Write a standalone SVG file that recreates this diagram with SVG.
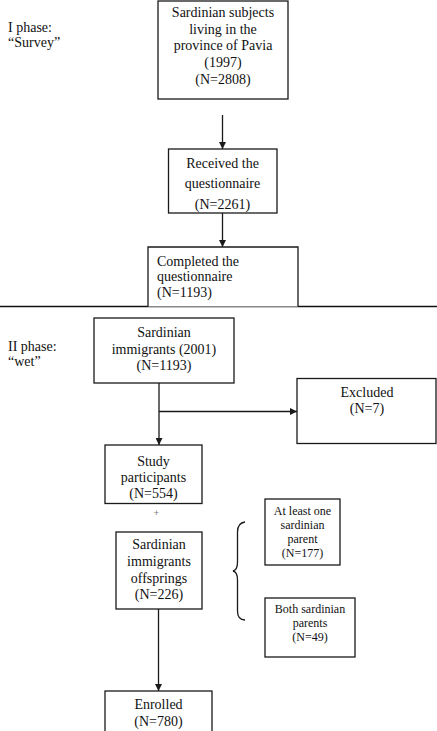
<svg xmlns="http://www.w3.org/2000/svg" width="437" height="731" viewBox="0 0 437 731">
<defs>
<style>
.box{fill:#fff;stroke:#1a1a1a;stroke-width:1.3}
.t{font-family:"Liberation Serif","Times New Roman",serif;font-size:14px;fill:#111;text-anchor:middle}
.s{font-family:"Liberation Serif","Times New Roman",serif;font-size:12px;fill:#111;text-anchor:middle}
.l{font-family:"Liberation Serif","Times New Roman",serif;font-size:14px;fill:#111}
.c{fill:none;stroke:#1a1a1a;stroke-width:1.3}
</style>
<marker id="ah" viewBox="0 0 10 10" refX="10" refY="5" markerWidth="7" markerHeight="7" markerUnits="userSpaceOnUse" orient="auto">
<path d="M0,0 L10,5 L0,10 z" fill="#1a1a1a"/>
</marker>
</defs>
<rect width="437" height="731" fill="#fff"/>
<g id="phase1-label">
<text class="l" x="8" y="32">I phase:</text>
<text class="l" x="8" y="47">“Survey”</text>
</g>
<g id="phase2-label">
<text class="l" x="8" y="351">II phase:</text>
<text class="l" x="8" y="366">“wet”</text>
</g>
<line id="divider" x1="0" y1="306.5" x2="437" y2="306.5" stroke="#111" stroke-width="1.5"/>
<g id="connectors">
<line class="c" x1="222.5" y1="115" x2="222.5" y2="149" marker-end="url(#ah)"/>
<line class="c" x1="222.5" y1="213" x2="222.5" y2="247" marker-end="url(#ah)"/>
<line class="c" x1="159" y1="383" x2="159" y2="445" marker-end="url(#ah)"/>
<line class="c" x1="159" y1="411.5" x2="297" y2="411.5" marker-end="url(#ah)"/>
<line class="c" x1="158.5" y1="609" x2="158.5" y2="691" marker-end="url(#ah)"/>
</g>
<g id="n1">
<rect class="box" x="158" y="1" width="130" height="98"/>
<text class="t" x="223" y="17">Sardinian subjects</text>
<text class="t" x="223" y="33.5">living in the</text>
<text class="t" x="223" y="50">province of Pavia</text>
<text class="t" x="223" y="67">(1997)</text>
<text class="t" x="223" y="84">(N=2808)</text>
</g>
<g id="n2">
<rect class="box" x="168.5" y="149" width="108.5" height="64"/>
<text class="t" x="222.5" y="167.5">Received the</text>
<text class="t" x="222.5" y="188">questionnaire</text>
<text class="t" x="222.5" y="208.5">(N=2261)</text>
</g>
<g id="n3">
<path class="box" d="M148,306.5 V247 H298 V306.5"/>
<text class="l" x="157" y="265.5">Completed the</text>
<text class="l" x="157" y="281">questionnaire</text>
<text class="l" x="157" y="297">(N=1193)</text>
</g>
<g id="n4">
<rect class="box" x="94" y="318" width="140" height="65"/>
<text class="t" x="164" y="337">Sardinian</text>
<text class="t" x="164" y="353.5">immigrants (2001)</text>
<text class="t" x="164" y="370">(N=1193)</text>
</g>
<g id="n5">
<rect class="box" x="297" y="378.5" width="139" height="65"/>
<text class="t" x="367" y="397">Excluded</text>
<text class="t" x="367" y="413">(N=7)</text>
</g>
<g id="n6">
<rect class="box" x="105" y="445" width="97" height="58.5"/>
<text class="t" x="153.5" y="465.5">Study</text>
<text class="t" x="153.5" y="482">participants</text>
<text class="t" x="153.5" y="498">(N=554)</text>
</g>
<text id="plus" x="156.5" y="515.5" font-family="Liberation Sans, Arial, sans-serif" font-size="9" fill="#777" text-anchor="middle">+</text>
<g id="n7">
<rect class="box" x="116" y="532" width="86" height="77"/>
<text class="t" x="159" y="549">Sardinian</text>
<text class="t" x="159" y="566">immigrants</text>
<text class="t" x="159" y="582.5">offsprings</text>
<text class="t" x="159" y="599">(N=226)</text>
</g>
<g id="brace">
<path class="c" d="M245,522 Q237.5,523 237.5,532 L237.5,562 Q237.5,570 233,571 Q237.5,572 237.5,580 L237.5,611 Q237.5,620 245,620"/>
</g>
<g id="n8">
<rect class="box" x="265" y="499" width="75" height="66"/>
<text class="s" x="302.5" y="515">At least one</text>
<text class="s" x="302.5" y="529">sardinian</text>
<text class="s" x="302.5" y="543">parent</text>
<text class="s" x="302.5" y="557">(N=177)</text>
</g>
<g id="n9">
<rect class="box" x="265" y="598" width="90" height="59"/>
<text class="s" x="310" y="613">Both sardinian</text>
<text class="s" x="310" y="627">parents</text>
<text class="s" x="310" y="641">(N=49)</text>
</g>
<g id="n10">
<rect class="box" x="105" y="691" width="107" height="45"/>
<text class="t" x="158.5" y="709">Enrolled</text>
<text class="t" x="158.5" y="726">(N=780)</text>
</g>
</svg>
